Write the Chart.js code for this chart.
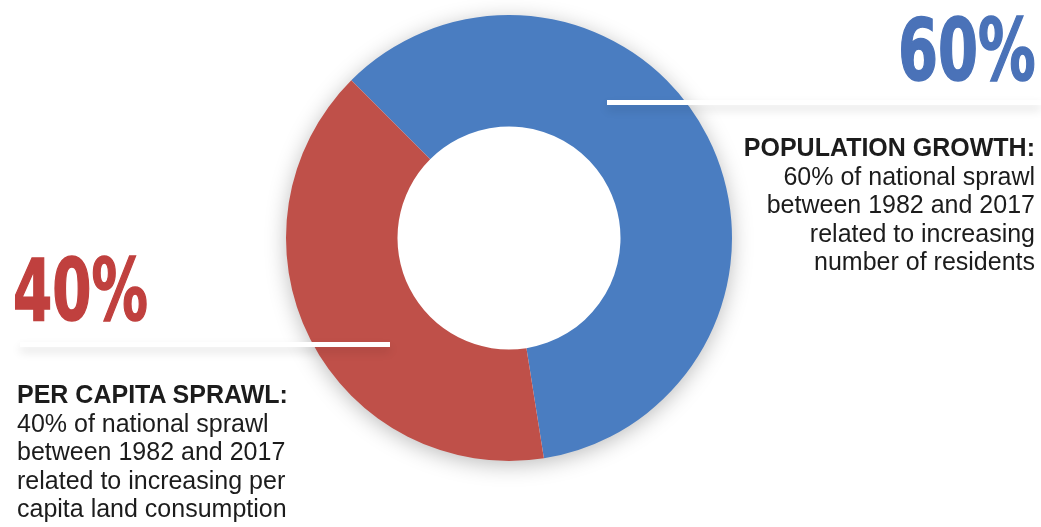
<!DOCTYPE html>
<html>
<head>
<meta charset="utf-8">
<script src="https://cdn.jsdelivr.net/npm/chart.js@4/dist/chart.umd.min.js"></script>
<style>
  html, body { margin: 0; padding: 0; background: #fff; }
  #wrap { position: relative; width: 1041px; height: 527px; overflow: hidden; font-family: 'Liberation Sans', Arial, sans-serif; color: #1c1c1c; }
  #wrap canvas { position: absolute; left: 0; top: 0; }
  .big { position: absolute; font-family: 'DejaVu Sans Condensed', 'Liberation Sans Narrow', sans-serif; font-weight: bold;
         white-space: nowrap; transform-origin: left top; -webkit-text-stroke: 1.5px currentColor; }
  .rule { position: absolute; height: 5px; background: #fff; box-shadow: 0 5px 10px rgba(0,0,0,0.13); }
  .block { position: absolute; font-size: 25px; line-height: 28.5px; }
  .block b { font-weight: bold; }
</style>
</head>
<body>
<div id="wrap">
  <canvas id="chart" width="1041" height="527"></canvas>
  <div class="rule" style="left:607px; top:100px; width:434px;"></div>
  <div class="rule" style="left:20px; top:342px; width:370px;"></div>
  <div class="big" id="big-right" style="color:#4a72b8;">60%</div>
  <div class="big" id="big-left" style="color:#c0403e;">40%</div>
  <div class="block" style="right:6px; top:133px; text-align:right;">
    <b>POPULATION GROWTH:</b><br>60% of national sprawl<br>between 1982 and 2017<br>related to increasing<br>number of residents
  </div>
  <div class="block" style="left:17px; top:380px; text-align:left;">
    <b>PER CAPITA SPRAWL:</b><br>40% of national sprawl<br>between 1982 and 2017<br>related to increasing per<br>capita land consumption
  </div>
</div>
<script>
const categories = ['Population growth', 'Per capita sprawl'];
const shares = [60, 40];
const sliceColors = ['#4a7dc1', '#bf5049'];

// fit the big condensed percentages into the boxes they fill in the graphic
function fitBig(el, left, top, width, capH) {
  const fam = getComputedStyle(el).fontFamily;
  const c = document.createElement('canvas').getContext('2d');
  c.font = 'bold 100px ' + fam;
  const m = c.measureText(el.textContent);
  const size = 100 * capH / m.actualBoundingBoxAscent;
  const k = size / 100;
  const fa = m.fontBoundingBoxAscent * k, fd = m.fontBoundingBoxDescent * k;
  el.style.fontSize = size + 'px';
  el.style.lineHeight = (fa + fd) + 'px';
  const inkLeft = -m.actualBoundingBoxLeft * k;
  const inkW = (m.actualBoundingBoxRight + m.actualBoundingBoxLeft) * k;
  const sx = width / inkW;
  el.style.transform = 'scaleX(' + sx + ')';
  el.style.left = (left - inkLeft * sx) + 'px';
  el.style.top = (top - (fa - capH)) + 'px';
}
fitBig(document.getElementById('big-right'), 901, 16, 133, 64);
fitBig(document.getElementById('big-left'), 16, 256, 131, 64);

// soft glow behind the ring, like the printed graphic
const ringShadow = {
  id: 'ringShadow',
  beforeDatasetsDraw(chart) {
    const arc = chart.getDatasetMeta(0).data[0];
    if (!arc) return;
    const ctx = chart.ctx;
    ctx.save();
    ctx.shadowColor = 'rgba(0,0,0,0.28)';
    ctx.shadowBlur = 22;
    ctx.shadowOffsetY = 4;
    ctx.fillStyle = '#fff';
    ctx.beginPath();
    ctx.arc(arc.x, arc.y, arc.outerRadius - 1, 0, Math.PI * 2);
    ctx.fill();
    ctx.restore();
  }
};

new Chart(document.getElementById('chart'), {
  type: 'doughnut',
  data: {
    labels: categories,
    datasets: [{ data: shares, backgroundColor: sliceColors, borderWidth: 0, hoverOffset: 0 }]
  },
  options: {
    responsive: false, animation: false,
    rotation: -45,
    cutout: '50%',
    layout: { padding: { left: 286, top: 15, right: 309, bottom: 66 } },
    plugins: { legend: { display: false }, tooltip: { enabled: false } }
  },
  plugins: [ringShadow]
});
</script>
</body>
</html>
